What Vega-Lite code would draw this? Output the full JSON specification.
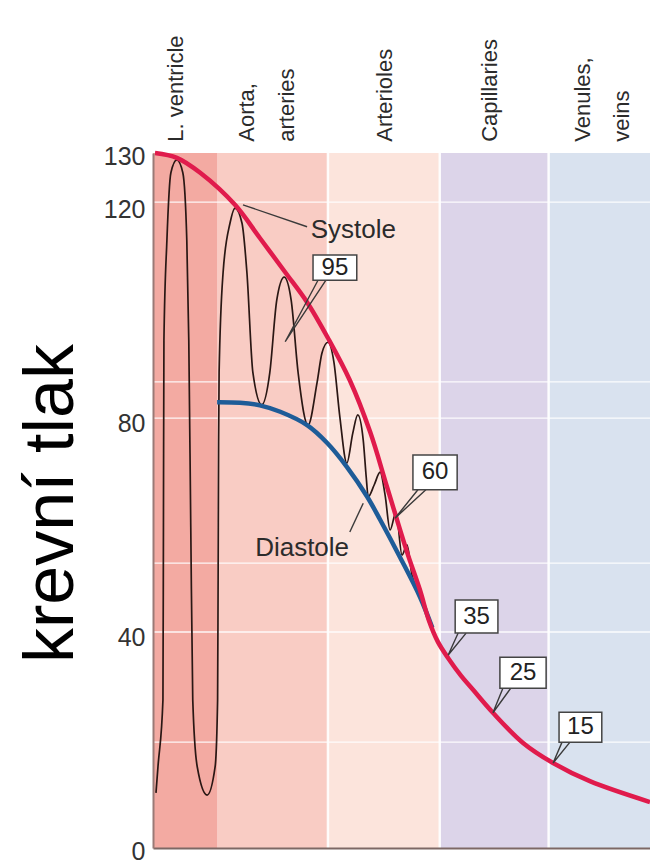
{
  "$schema": "https://vega.github.io/schema/vega-lite/v6.json",
  "width": 497,
  "height": 695,
  "autosize": {"type": "none"},
  "padding": {"left": 153, "top": 153, "right": 0, "bottom": 17},
  "background": "white",
  "config": {"view": {"stroke": null}, "font": "Liberation Sans"},
  "resolve": {"axis": {"x": "independent", "y": "independent"}},
  "datasets": {
    "bands": [
      {"region": "L. ventricle", "x0": 0, "x1": 13.0},
      {"region": "Aorta, arteries", "x0": 13.0, "x1": 35.2},
      {"region": "Arterioles", "x0": 35.2, "x1": 57.7},
      {"region": "Capillaries", "x0": 57.7, "x1": 79.6},
      {"region": "Venules, veins", "x0": 79.6, "x1": 100}
    ],
    "hgrid": [{"v": 120.8}, {"v": 87.2}, {"v": 80.4}, {"v": 53.3}, {"v": 40.4}, {"v": 19.8}],
    "vgrid": [{"x": 35.2}, {"x": 57.7}, {"x": 79.6}],
    "trace": [
      {"i": 1, "x": 0.6, "p": 10.3}, {"i": 2, "x": 1.0, "p": 15.2}, {"i": 3, "x": 2.0, "p": 27.7},
      {"i": 4, "x": 2.1, "p": 60}, {"i": 5, "x": 2.2, "p": 95}, {"i": 6, "x": 2.8, "p": 113.7},
      {"i": 7, "x": 3.6, "p": 126.3}, {"i": 8, "x": 4.8, "p": 128.7}, {"i": 9, "x": 6.0, "p": 126.3},
      {"i": 10, "x": 6.8, "p": 113.7}, {"i": 11, "x": 7.2, "p": 95}, {"i": 12, "x": 7.6, "p": 60},
      {"i": 13, "x": 8.0, "p": 27.7}, {"i": 14, "x": 8.9, "p": 15.2}, {"i": 15, "x": 10.9, "p": 9.9},
      {"i": 16, "x": 12.5, "p": 15.2}, {"i": 17, "x": 13.0, "p": 27.7}, {"i": 18, "x": 13.1, "p": 50},
      {"i": 19, "x": 13.2, "p": 76}, {"i": 20, "x": 13.3, "p": 88.9}, {"i": 21, "x": 14.1, "p": 107.6},
      {"i": 22, "x": 15.5, "p": 116.9}, {"i": 23, "x": 16.5, "p": 119.7}, {"i": 24, "x": 17.9, "p": 116.9},
      {"i": 25, "x": 18.9, "p": 107.6}, {"i": 26, "x": 20.1, "p": 88.9}, {"i": 27, "x": 21.9, "p": 82.9},
      {"i": 28, "x": 23.5, "p": 88.9}, {"i": 29, "x": 24.9, "p": 102.5}, {"i": 30, "x": 26.4, "p": 106.8},
      {"i": 31, "x": 27.8, "p": 102.5}, {"i": 32, "x": 29.2, "p": 88.9}, {"i": 33, "x": 31.2, "p": 79.1},
      {"i": 34, "x": 33.0, "p": 87}, {"i": 35, "x": 34.0, "p": 92.6}, {"i": 36, "x": 35.2, "p": 94.6},
      {"i": 37, "x": 36.4, "p": 90.9}, {"i": 38, "x": 37.6, "p": 80.6}, {"i": 39, "x": 39.0, "p": 72},
      {"i": 40, "x": 40.2, "p": 77.6}, {"i": 41, "x": 41.2, "p": 81}, {"i": 42, "x": 42.3, "p": 76.3},
      {"i": 43, "x": 42.9, "p": 69.4}, {"i": 44, "x": 43.3, "p": 65.7}, {"i": 45, "x": 44.5, "p": 67.9},
      {"i": 46, "x": 45.7, "p": 70.3}, {"i": 47, "x": 46.7, "p": 66}, {"i": 48, "x": 47.7, "p": 59.5},
      {"i": 49, "x": 48.9, "p": 62.8}, {"i": 50, "x": 50.1, "p": 54.8}, {"i": 51, "x": 51.1, "p": 56.7},
      {"i": 52, "x": 52.1, "p": 51.1}, {"i": 53, "x": 53.7, "p": 47.3}, {"i": 54, "x": 55.8, "p": 41.8}
    ],
    "diastole": [
      {"x": 12.9, "p": 83.4}, {"x": 17.5, "p": 83.3}, {"x": 21.5, "p": 82.8}, {"x": 25.6, "p": 81.6},
      {"x": 31.0, "p": 79.1}, {"x": 35.0, "p": 75.8}, {"x": 39.0, "p": 71.3}, {"x": 43.1, "p": 65.7},
      {"x": 45.7, "p": 61.4}, {"x": 49.7, "p": 54.4}, {"x": 53.7, "p": 47}, {"x": 56.2, "p": 41.2}
    ],
    "systole": [
      {"x": 0.4, "p": 130}, {"x": 4.8, "p": 129.1}, {"x": 9.5, "p": 126.3}, {"x": 16.5, "p": 120.3},
      {"x": 21.5, "p": 114.1}, {"x": 26.6, "p": 107.7}, {"x": 31.0, "p": 102.1}, {"x": 35.2, "p": 95.4},
      {"x": 39.6, "p": 87.5}, {"x": 43.7, "p": 77.8}, {"x": 47.1, "p": 67.5}, {"x": 51.1, "p": 55.4},
      {"x": 53.7, "p": 48.3}, {"x": 55.5, "p": 42.6}, {"x": 57.3, "p": 38.6}, {"x": 59.4, "p": 35.5},
      {"x": 62.0, "p": 32.2}, {"x": 64.4, "p": 29.6}, {"x": 68.4, "p": 25.3}, {"x": 74.4, "p": 19.7},
      {"x": 80.5, "p": 15.9}, {"x": 87.9, "p": 12.5}, {"x": 100, "p": 8.6}
    ],
    "leaders": [
      {"id": "sys", "i": 0, "x": 18.1, "p": 120.3}, {"id": "sys", "i": 1, "x": 31.0, "p": 116.2},
      {"id": "dia", "i": 0, "x": 39.6, "p": 59.1}, {"id": "dia", "i": 1, "x": 42.3, "p": 64.5},
      {"id": "95", "i": 0, "x": 33.2, "p": 106.2}, {"id": "95", "i": 1, "x": 26.6, "p": 94.7}, {"id": "95", "i": 2, "x": 34.8, "p": 106.2},
      {"id": "60", "i": 0, "x": 53.3, "p": 67.0}, {"id": "60", "i": 1, "x": 48.7, "p": 61.7}, {"id": "60", "i": 2, "x": 54.9, "p": 67.0},
      {"id": "35", "i": 0, "x": 61.4, "p": 40.2}, {"id": "35", "i": 1, "x": 59.4, "p": 36.1}, {"id": "35", "i": 2, "x": 63.0, "p": 40.2},
      {"id": "25", "i": 0, "x": 70.4, "p": 29.9}, {"id": "25", "i": 1, "x": 68.4, "p": 25.3}, {"id": "25", "i": 2, "x": 72.0, "p": 29.9},
      {"id": "15", "i": 0, "x": 82.3, "p": 19.8}, {"id": "15", "i": 1, "x": 80.5, "p": 15.9}, {"id": "15", "i": 2, "x": 83.9, "p": 19.8}
    ],
    "boxes": [
      {"label": "95", "x0": 32.2, "x1": 41.0, "p0": 106.2, "p1": 110.9, "xc": 36.6, "pc": 108.55},
      {"label": "60", "x0": 52.3, "x1": 61.2, "p0": 67.0, "p1": 73.5, "xc": 56.75, "pc": 70.25},
      {"label": "35", "x0": 60.8, "x1": 69.4, "p0": 40.2, "p1": 46.4, "xc": 65.1, "pc": 43.3},
      {"label": "25", "x0": 69.8, "x1": 79.1, "p0": 29.9, "p1": 35.7, "xc": 74.45, "pc": 32.8},
      {"label": "15", "x0": 81.7, "x1": 90.3, "p0": 19.8, "p1": 25.4, "xc": 86.0, "pc": 22.6}
    ],
    "notes": [
      {"text": "Systole", "x": 40.3, "p": 115.6},
      {"text": "Diastole", "x": 30.0, "p": 56.1}
    ],
    "regions": [
      {"text": "L. ventricle", "x": 4.6},
      {"text": "Aorta,", "x": 18.9},
      {"text": "arteries", "x": 26.9},
      {"text": "Arterioles", "x": 46.7},
      {"text": "Capillaries", "x": 67.8},
      {"text": "Venules,", "x": 86.5},
      {"text": "veins", "x": 94.4}
    ]
  },
  "layer": [
    {
      "data": {"name": "bands"},
      "mark": {"type": "rect"},
      "encoding": {
        "x": {"field": "x0", "type": "quantitative", "scale": {"domain": [0, 100], "nice": false, "zero": false},
              "axis": {"title": null, "labels": false, "ticks": false, "grid": false, "domain": true, "domainColor": "#7d6865", "domainWidth": 2, "zindex": 1}},
        "x2": {"field": "x1"},
        "y": {"datum": 0, "type": "quantitative", "scale": {"domain": [0, 130], "nice": false},
              "axis": {"title": "krevní tlak", "values": [0, 40, 80, 120, 130], "ticks": false, "grid": false, "labelPadding": 8,
                       "labelFontSize": 25, "labelColor": "#333333", "labelFont": "Liberation Sans", "labelOffset": 3,
                       "domain": true, "domainColor": "#9a7a76", "domainWidth": 2, "zindex": 1,
                       "titleFontSize": 70, "titleFontWeight": "normal", "titleColor": "#000000", "titleFont": "Liberation Sans",
                       "titleAngle": -90, "titleBaseline": "alphabetic", "titleAlign": "center", "titleX": -81, "titleY": 350}},
        "y2": {"datum": 130},
        "color": {"field": "region", "type": "nominal", "legend": null,
                  "scale": {"domain": ["L. ventricle", "Aorta, arteries", "Arterioles", "Capillaries", "Venules, veins"],
                            "range": ["#f3aaa2", "#f9ccc4", "#fce4dc", "#dcd4e9", "#d9e2ef"]}}
      }
    },
    {
      "data": {"name": "hgrid"},
      "mark": {"type": "rule", "color": "#ffffff", "strokeWidth": 1.3, "opacity": 0.9},
      "encoding": {"y": {"field": "v", "type": "quantitative", "axis": null}}
    },
    {
      "data": {"name": "vgrid"},
      "mark": {"type": "rule", "color": "#ffffff", "strokeWidth": 2.5, "opacity": 0.9},
      "encoding": {"x": {"field": "x", "type": "quantitative", "axis": null}}
    },
    {
      "data": {"name": "trace"},
      "mark": {"type": "line", "color": "#2a1714", "strokeWidth": 1.7, "interpolate": "monotone"},
      "encoding": {
        "x": {"field": "x", "type": "quantitative", "axis": null},
        "y": {"field": "p", "type": "quantitative", "axis": null},
        "order": {"field": "i"}
      }
    },
    {
      "data": {"name": "diastole"},
      "mark": {"type": "line", "color": "#1e5c98", "strokeWidth": 4.5, "interpolate": "catmull-rom"},
      "encoding": {
        "x": {"field": "x", "type": "quantitative", "axis": null},
        "y": {"field": "p", "type": "quantitative", "axis": null}
      }
    },
    {
      "data": {"name": "systole"},
      "mark": {"type": "line", "color": "#e01b4c", "strokeWidth": 4.5, "interpolate": "catmull-rom"},
      "encoding": {
        "x": {"field": "x", "type": "quantitative", "axis": null},
        "y": {"field": "p", "type": "quantitative", "axis": null}
      }
    },
    {
      "data": {"name": "leaders"},
      "mark": {"type": "line", "color": "#3a3a3a", "strokeWidth": 1.4},
      "encoding": {
        "x": {"field": "x", "type": "quantitative", "axis": null},
        "y": {"field": "p", "type": "quantitative", "axis": null},
        "detail": {"field": "id"},
        "order": {"field": "i"}
      }
    },
    {
      "data": {"name": "boxes"},
      "mark": {"type": "rect", "fill": "#ffffff", "stroke": "#444444", "strokeWidth": 1.5},
      "encoding": {
        "x": {"field": "x0", "type": "quantitative", "axis": null},
        "x2": {"field": "x1"},
        "y": {"field": "p0", "type": "quantitative", "axis": null},
        "y2": {"field": "p1"}
      }
    },
    {
      "data": {"name": "boxes"},
      "mark": {"type": "text", "fontSize": 24, "color": "#222222", "align": "center", "baseline": "middle", "font": "Liberation Sans"},
      "encoding": {
        "x": {"field": "xc", "type": "quantitative", "axis": null},
        "y": {"field": "pc", "type": "quantitative", "axis": null},
        "text": {"field": "label"}
      }
    },
    {
      "data": {"name": "notes"},
      "mark": {"type": "text", "fontSize": 26, "color": "#2b2b2b", "align": "center", "baseline": "middle", "font": "Liberation Sans"},
      "encoding": {
        "x": {"field": "x", "type": "quantitative", "axis": null},
        "y": {"field": "p", "type": "quantitative", "axis": null},
        "text": {"field": "text"}
      }
    },
    {
      "data": {"name": "regions"},
      "mark": {"type": "text", "fontSize": 22, "color": "#2b2b2b", "align": "left", "baseline": "middle", "angle": 270, "font": "Liberation Sans"},
      "encoding": {
        "x": {"field": "x", "type": "quantitative", "axis": null},
        "y": {"datum": 132.1, "type": "quantitative", "axis": null},
        "text": {"field": "text"}
      }
    }
  ]
}
